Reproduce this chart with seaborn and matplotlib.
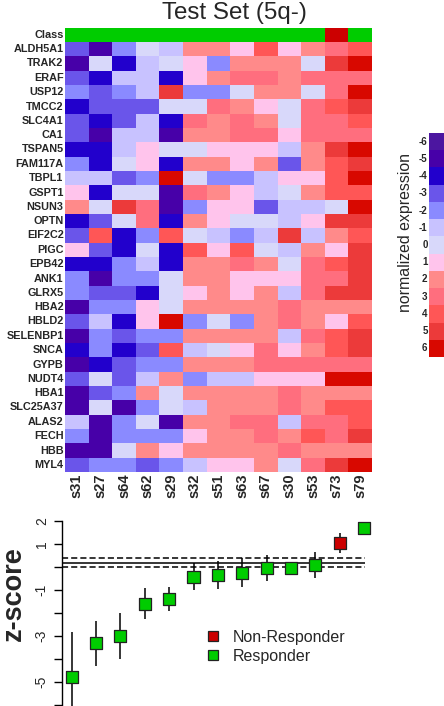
"""
plot.py - heatmap of the 5q- test set plus per-sample z-scores.
"""

import numpy as np
import pandas as pd
import matplotlib
matplotlib.use("Agg")
import matplotlib.pyplot as plt
import seaborn as sns
from matplotlib.colors import ListedColormap
from matplotlib.lines import Line2D

# ---- data -----------------------------------------------------------------
samples = ["s31", "s27", "s64", "s62", "s29", "s32", "s51",
           "s63", "s67", "s30", "s53", "s73", "s79"]
classes = ["Responder"] * 11 + ["Non-Responder", "Responder"]

genes = ["ALDH5A1", "TRAK2", "ERAF", "USP12", "TMCC2", "SLC4A1", "CA1",
         "TSPAN5", "FAM117A", "TBPL1", "GSPT1", "NSUN3", "OPTN", "EIF2C2",
         "PIGC", "EPB42", "ANK1", "GLRX5", "HBA2", "HBLD2", "SELENBP1",
         "SNCA", "GYPB", "NUDT4", "HBA1", "SLC25A37", "ALAS2", "FECH",
         "HBB", "MYL4"]

# binned normalized expression, one list per gene (columns follow `samples`)
expr = [
    [-3, -5, -2, 0, -1, 2, 2, 1, 4, 1, 2, 3, 4],
    [-5, 0, -4, -1, 0, 1, -2, 2, 2, 2, 0, 5, 6],
    [-3, -4, -1, -1, -4, 1, 2, 3, 3, 2, 3, 3, 3],
    [-2, -3, -2, -1, 5, -2, -2, 0, 2, 2, 0, 3, 6],
    [-4, -3, -3, -3, 0, 0, 3, 2, 1, 0, 3, 4, 5],
    [-3, -4, -3, -1, -4, 3, 2, 3, 2, 0, 3, 3, 4],
    [-3, -5, -1, -1, -5, 2, 2, 3, 3, 1, 3, 3, 3],
    [-4, -4, -1, 1, 0, 0, 1, 1, 1, -1, 2, 5, 6],
    [-2, -4, 0, 1, -4, 2, 2, 1, 2, -3, 2, 4, 5],
    [-1, -1, -3, -2, 6, 0, -2, -2, -1, 1, 1, 4, 6],
    [1, -4, 0, 0, -5, 3, 2, 1, -1, 0, 2, 4, 4],
    [2, 0, 5, 3, -5, -2, 1, 1, -3, -1, -1, 0, 6],
    [-4, -3, 0, 3, -4, 2, 1, 0, 0, -1, 1, 5, 5],
    [-3, 4, -4, -2, 4, 0, -1, -2, -1, 5, -1, 2, 4],
    [1, -3, -4, 0, -4, 4, 1, 4, 0, -1, 2, 1, 5],
    [-4, -4, -2, -1, -4, 2, 2, 3, 2, 0, 3, 4, 5],
    [-2, -5, -2, -2, 0, 2, 2, 1, 1, 1, 3, 3, 5],
    [-2, -3, -3, -4, 0, 1, 2, 1, 2, -1, 3, 5, 5],
    [-5, -2, -2, 1, 0, 2, 2, 2, 2, 3, 2, 2, 2],
    [-3, -1, -4, 1, 6, -2, 0, -2, 2, 3, 2, 1, 4],
    [-5, -2, -3, -2, -2, 2, 2, 2, 2, -1, 3, 4, 5],
    [-4, -2, -4, -3, 4, -1, 0, 1, 3, 1, 2, 4, 5],
    [-5, -4, -3, -2, -2, 2, 2, 2, 3, 3, 3, 3, 3],
    [-3, 0, -3, -1, 2, -2, -1, -1, 1, 1, 1, 6, 6],
    [-5, -3, -2, 2, 0, 2, 2, 2, 2, 3, 2, 2, 2],
    [-5, 0, -5, -2, 0, -1, 2, 2, 2, 3, 2, 4, 4],
    [-1, -5, -2, 0, -5, 2, 2, 3, 3, -1, 3, 3, 4],
    [-2, -5, -2, -2, -2, 1, 2, 2, 3, 2, 4, 3, 5],
    [-5, -5, 0, 2, 1, 2, 2, 2, 2, 3, 2, 2, 2],
    [-3, -2, -2, -3, -2, -1, 1, 1, 2, 0, 3, 5, 6],
]

levels = list(range(-6, 7))
level_colors = ["#4c16a0", "#4700a8", "#2200cc", "#6a55ea", "#8a8aff",
                "#c8c2ff", "#d8d8fa", "#ffc4ec", "#ff8a8a", "#ff6e7e",
                "#ff5656", "#ec3a3a", "#d80800"]

# z-score with its interval, samples in the same order as the heatmap
zscore = [-4.78, -3.33, -3.0, -1.64, -1.42, -0.43, -0.38, -0.29,
          -0.07, -0.07, 0.07, 1.01, 1.67]
z_low = [-6.6, -4.32, -4.0, -2.29, -1.91, -1.01, -0.97, -0.90,
         -0.62, -0.38, -0.51, 0.61, 1.38]
z_high = [-2.83, -2.35, -2.03, -0.94, -0.90, 0.14, 0.25, 0.36,
          0.51, 0.20, 0.62, 1.45, 1.88]
cutoff = 0.16
cutoff_band = [-0.01, 0.36]

class_colors = {"Responder": "#00cc00", "Non-Responder": "#cc0000"}

# ---- figure ---------------------------------------------------------------
sns.set_theme(style="ticks")
plt.rcParams["font.family"] = ["Liberation Sans", "DejaVu Sans"]

W, H = 444, 706
fig = plt.figure(figsize=(W / 100, H / 100), dpi=100)


def box(left, top, right, bottom):
    """pixel box -> figure fraction rect"""
    return [left / W, 1 - bottom / H, (right - left) / W, (bottom - top) / H]


fig.text(234 / W, 1 - 18.5 / H, "Test Set (5q-)", ha="center",
         va="baseline", fontsize=17.4)

# class strip
ax_cls = fig.add_axes(box(65, 28, 372, 42))
cls_df = pd.DataFrame([[1 if c == "Non-Responder" else 0 for c in classes]],
                      index=["Class"], columns=samples)
sns.heatmap(cls_df, ax=ax_cls, cbar=False, xticklabels=False,
            yticklabels=True,
            cmap=ListedColormap([class_colors["Responder"],
                                 class_colors["Non-Responder"]]),
            vmin=-0.5, vmax=1.5)
for t in ax_cls.get_yticklabels():
    t.set_rotation(0)
    t.set_fontsize(7.8)
    t.set_fontweight("bold")
ax_cls.tick_params(length=0, pad=1)
ax_cls.set_xlabel("")
ax_cls.set_ylabel("")

# expression heatmap
cmap = ListedColormap(level_colors)
expr_df = pd.DataFrame(expr, index=genes, columns=samples)
ax_hm = fig.add_axes(box(65, 42, 372, 472))
sns.heatmap(expr_df, ax=ax_hm, cmap=cmap, vmin=-6.5, vmax=6.5, cbar=False,
            xticklabels=True, yticklabels=True)
ax_hm.set_yticklabels(genes, rotation=0, fontsize=7.8, fontweight="bold")
ax_hm.set_xticklabels(samples, rotation=90, fontsize=10.5, fontweight="bold")
ax_hm.tick_params(length=0, pad=1)

# colour key
ax_cb = fig.add_axes(box(429, 133, 452, 357))
key_df = pd.DataFrame({"v": levels}, index=levels)
sns.heatmap(key_df, ax=ax_cb, cmap=cmap, vmin=-6.5, vmax=6.5, cbar=False,
            xticklabels=False, yticklabels=True)
ax_cb.set_yticklabels([str(v) for v in levels], rotation=0, fontsize=7,
                      fontweight="bold")
ax_cb.tick_params(length=0, pad=1)
ax_cb.set_ylabel("")
fig.text(405 / W, 1 - 232 / H, "normalized expression", rotation=90,
         ha="center", va="center", fontsize=11.4)

# z-score panel
ax_z = fig.add_axes(box(61.7, 520.7, 365, 706))
pos = np.arange(1, len(samples) + 1)
ax_z.vlines(pos, z_low, z_high, color="black", lw=1.1, zorder=1)
ax_z.axhline(cutoff, color="black", lw=1.1, zorder=1)
for y in cutoff_band:
    ax_z.axhline(y, color="black", lw=1.1, ls=(0, (4, 2)), zorder=1)
sns.scatterplot(x=pos, y=zscore, hue=classes, palette=class_colors,
                marker="s", s=75, edgecolor="#222222", linewidth=0.9,
                legend=False, ax=ax_z, zorder=3, clip_on=False)
ax_z.set_xlim(0.589, 13.04)
ax_z.set_ylim(-6.06, 2.0)
ax_z.set_xticks([])
ax_z.set_yticks(range(-6, 3))
ax_z.set_yticklabels(["" if v in (-6, -4, -2, 0) else str(v)
                      for v in range(-6, 3)],
                     rotation=90, va="center", fontsize=10)
ax_z.tick_params(axis="y", length=5.8, width=1, pad=3.5, color="black")
for side in ["top", "right", "bottom"]:
    ax_z.spines[side].set_visible(False)
ax_z.spines["left"].set_color("black")
ax_z.spines["left"].set_linewidth(1)
ax_z.patch.set_alpha(0)

fig.text(13.5 / W, 1 - 594 / H, "z-score", rotation=90, ha="center",
         va="center", fontsize=19.5, fontweight="bold")

handles = [Line2D([], [], ls="", marker="s", markersize=6.7,
                  markerfacecolor=class_colors[k], markeredgecolor="#222222",
                  markeredgewidth=0.9)
           for k in ["Non-Responder", "Responder"]]
fig.legend(handles, ["Non-Responder", "Responder"], loc="upper left",
           bbox_to_anchor=(204.7 / W, 1 - 630 / H), frameon=False,
           borderpad=0, borderaxespad=0, handlelength=1.0,
           handletextpad=0.75, labelspacing=0.22, fontsize=11.5)

fig.savefig("out.png", dpi=100)
